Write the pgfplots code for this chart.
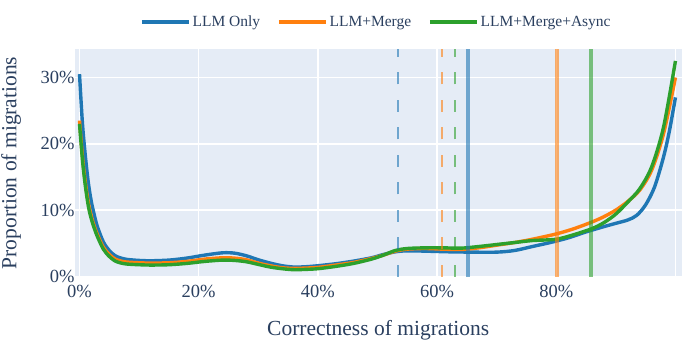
\documentclass[border=0pt]{standalone}
\usepackage{fontspec}
\setmainfont{Liberation Serif}
\usepackage{pgfplots}
\pgfplotsset{compat=1.18}
\definecolor{cblue}{HTML}{1F77B4}
\definecolor{corange}{HTML}{FF7F0E}
\definecolor{cgreen}{HTML}{2CA02C}
\definecolor{bgc}{HTML}{E5ECF6}
\definecolor{txt}{HTML}{2A3F5F}

\begin{document}
\begin{tikzpicture}
\useasboundingbox (0,0) rectangle (697bp,341bp);
\begin{axis}[
  at={(74.5bp,64bp)}, anchor=south west,
  scale only axis, width=607.5bp, height=228bp,
  xmin=-0.84, xmax=101.1, ymin=-0.1, ymax=34.3,
  axis background/.style={fill=bgc},
  axis line style={draw=none},
  major tick length=0pt,
  xtick={0,20,40,60,80,100}, xticklabels={0\%,20\%,40\%,60\%,80\%,},
  ytick={0,10,20,30}, yticklabels={0\%,10\%,20\%,30\%},
  grid=major, major grid style={white, line width=1.5bp},
  tick label style={font=\rmfamily\fontsize{18.5bp}{21bp}\selectfont, text=txt},
  xticklabel style={yshift=-5bp},
  yticklabel style={xshift=3.5bp},
  xlabel={Correctness of migrations}, ylabel={Proportion of migrations},
  label style={font=\fontsize{21.5bp}{24bp}\selectfont, text=txt},
  xlabel style={at={(axis description cs:0.5,-0.2325)}, anchor=center},
  ylabel style={at={(axis description cs:-0.1045,0.5)}, anchor=center},
  legend columns=3,
  legend style={draw=none, fill=none, at={(axis description cs:0.497,1.118)},
    anchor=center, font=\fontsize{15.5bp}{18bp}\selectfont, text=txt,
    /tikz/every even column/.append style={column sep=15bp}},
  legend image code/.code={\draw[#1] (0bp,0bp) -- (47bp,0bp);},
  every axis plot/.append style={line width=3.4bp, smooth, tension=0.5},
]
% LLM Only
\addplot[cblue] coordinates {
(0,30.5) (0.5,23) (1,18) (1.5,14) (2,11.2) (2.5,9.2) (3,7.5) (4,5.2) (5,3.9)
(6,3.1) (7,2.75) (8,2.55) (10,2.4) (12,2.35) (15,2.45) (18,2.75) (21,3.2)
(24,3.55) (26,3.5) (28,3.1) (30,2.5) (32,2.0) (34,1.6) (36,1.4) (38,1.45)
(40,1.6) (43,1.9) (46,2.3) (49,2.8) (51,3.3) (53,3.7) (55,3.85) (58,3.8)
(62,3.7) (66,3.65) (70,3.65) (73,3.9) (76,4.5) (79,5.1) (82,5.8) (85,6.7)
(88,7.5) (90,8.0) (92,8.5) (93.5,9.2) (95,10.8) (96.5,13.5) (98,18) (99,22) (100,27)};
\addlegendentry{LLM Only}
% LLM+Merge
\addplot[corange] coordinates {
(0,23.5) (0.5,18) (1,14) (1.5,11) (2,9) (2.5,7.5) (3,6.3) (4,4.4) (5,3.3)
(6,2.6) (7,2.3) (8,2.15) (10,2.05) (12,2.0) (15,2.05) (18,2.25) (21,2.6)
(24,2.8) (26,2.75) (28,2.5) (30,2.0) (32,1.6) (34,1.3) (36,1.2) (38,1.25)
(40,1.35) (43,1.7) (46,2.1) (49,2.7) (51,3.2) (53,3.8) (55,4.1) (58,4.2)
(61,4.1) (64,4.05) (67,4.3) (70,4.7) (73,5.1) (76,5.6) (80,6.4) (83,7.2)
(86,8.2) (88,9.0) (90,10.0) (92,11.3) (94,13) (96,16) (98,21.5) (100,30)};
\addlegendentry{LLM+Merge}
% LLM+Merge+Async
\addplot[cgreen] coordinates {
(0,23) (0.5,17.5) (1,13.5) (1.5,10.5) (2,8.6) (2.5,7.2) (3,6.0) (4,4.1) (5,3.0)
(6,2.3) (7,2.0) (8,1.85) (10,1.75) (12,1.7) (15,1.75) (18,1.95) (21,2.25)
(24,2.45) (26,2.4) (28,2.2) (30,1.8) (32,1.4) (34,1.15) (36,1.0) (38,1.05)
(40,1.15) (43,1.5) (46,1.95) (49,2.6) (51,3.2) (53,3.9) (55,4.2) (58,4.3)
(61,4.3) (64,4.25) (67,4.5) (70,4.8) (73,5.1) (76,5.4) (80,5.6) (83,6.3)
(86,7.2) (88,8.1) (90,9.4) (92,11.2) (94,13.2) (96,16.5) (98,22.5) (100,32.5)};
\addlegendentry{LLM+Merge+Async}
% medians (dashed) and means (solid)
\addplot[forget plot, sharp plot, cblue, opacity=0.6, line width=1.8bp, dash pattern=on 12bp off 15.5bp] coordinates {(53.4,-0.1) (53.4,34.3)};
\addplot[forget plot, sharp plot, corange, opacity=0.6, line width=1.8bp, dash pattern=on 12bp off 15.5bp] coordinates {(60.8,-0.1) (60.8,34.3)};
\addplot[forget plot, sharp plot, cgreen, opacity=0.6, line width=1.8bp, dash pattern=on 12bp off 15.5bp] coordinates {(63.0,-0.1) (63.0,34.3)};
\addplot[forget plot, sharp plot, cblue, opacity=0.6, line width=3.5bp] coordinates {(65.2,-0.1) (65.2,34.3)};
\addplot[forget plot, sharp plot, corange, opacity=0.6, line width=3.5bp] coordinates {(80.1,-0.1) (80.1,34.3)};
\addplot[forget plot, sharp plot, cgreen, opacity=0.6, line width=3.5bp] coordinates {(85.8,-0.1) (85.8,34.3)};
\end{axis}
\end{tikzpicture}
\end{document}
